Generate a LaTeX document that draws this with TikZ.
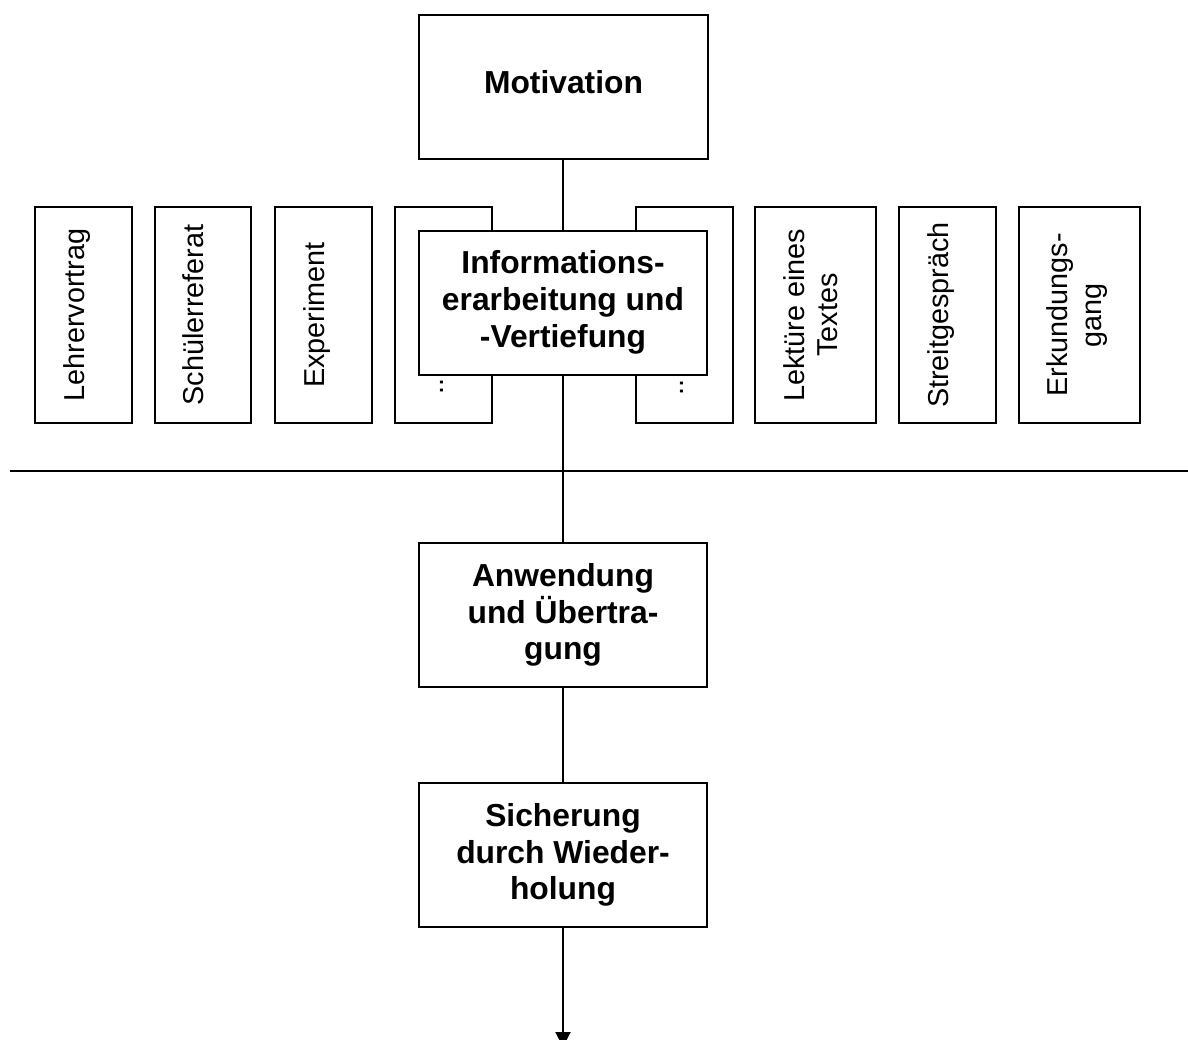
\documentclass[tikz,border=0pt]{standalone}
\usepackage{fontspec}
\setmainfont{Liberation Sans}
\usetikzlibrary{arrows.meta}
\begin{document}
\begin{tikzpicture}[x=0.5pt,y=-0.5pt,
  line width=1pt,
  stagebox/.style={draw, fill=white, inner sep=0pt, align=center,
    minimum width=144pt, minimum height=72pt,
    font=\fontsize{15.9}{18.35}\selectfont\bfseries},
  methodbox/.style={draw, fill=white, inner sep=0pt,
    minimum height=108pt, minimum width=48.5pt},
  widebox/.style={methodbox, minimum width=60.5pt},
  methodtext/.style={inner sep=0pt, rotate=90, anchor=base,
    font=\fontsize{14.4}{16.6}\selectfont},
  flow/.style={draw, line width=1pt}]
\useasboundingbox (0,0) rectangle (1188,1039);
\clip (0,0) rectangle (1188,1039);

% frames of the working methods
\node[methodbox] (lehrer) at (83.5,315) {};
\node[methodbox, minimum width=48pt] (referat) at (203,315) {};
\node[methodbox] (experiment) at (323.5,315) {};
\node[methodbox] (moreleft) at (443.5,315) {};
\node[methodbox] (moreright) at (684.5,315) {};
\node[widebox] (lektuere) at (815.5,315) {};
\node[methodbox] (streit) at (947.5,315) {};
\node[widebox] (erkundung) at (1079.5,315) {};

% their labels, running upwards
\node[methodtext] (lehrer-t) at (84,315) {Lehrervortrag};
\node[methodtext] (referat-t) at (203.5,315) {Schülerreferat};
\node[methodtext] (experiment-t) at (324,315) {Experiment};
\node[methodtext] (moreleft-t) at (443.5,386) {..};
\node[methodtext] (moreright-t) at (683.5,387) {..};
\node[methodtext] (lektuere-t) at (837.5,315)
  {\begin{tabular}[b]{@{}c@{}}Lektüre eines\\Textes\end{tabular}};
\node[methodtext] (streit-t) at (948,315) {Streitgespräch};
\node[methodtext] (erkundung-t) at (1101,315)
  {\begin{tabular}[b]{@{}c@{}}Erkundungs-\\gang\end{tabular}};

% dividing line
\coordinate (divleft) at (10,471);
\coordinate (divright) at (1188,471);
\draw (divleft) -- (divright);

% stages of the lesson
\node[stagebox, minimum width=144.5pt] (motivation) at (563.5,87) {\raisebox{5.5pt}{Motivation}};
\node[stagebox] (info) at (563,302.5) {Informations-\\erarbeitung und\\-Vertiefung};
\node[stagebox] (anwendung) at (563,615) {Anwendung\\und Übertra-\\gung};
\node[stagebox] (sicherung) at (563,855) {Sicherung\\durch Wieder-\\holung};
\coordinate (weiter) at (563,1047);

\draw[flow] (motivation.south -| info.north) -- (info.north);
\draw[flow] (info.south) -- (anwendung.north);
\draw[flow] (anwendung.south) -- (sicherung.north);
\draw[flow, -{Triangle[width=7.5pt,length=7.5pt]}] (sicherung.south) -- (weiter);
\end{tikzpicture}
\end{document}
